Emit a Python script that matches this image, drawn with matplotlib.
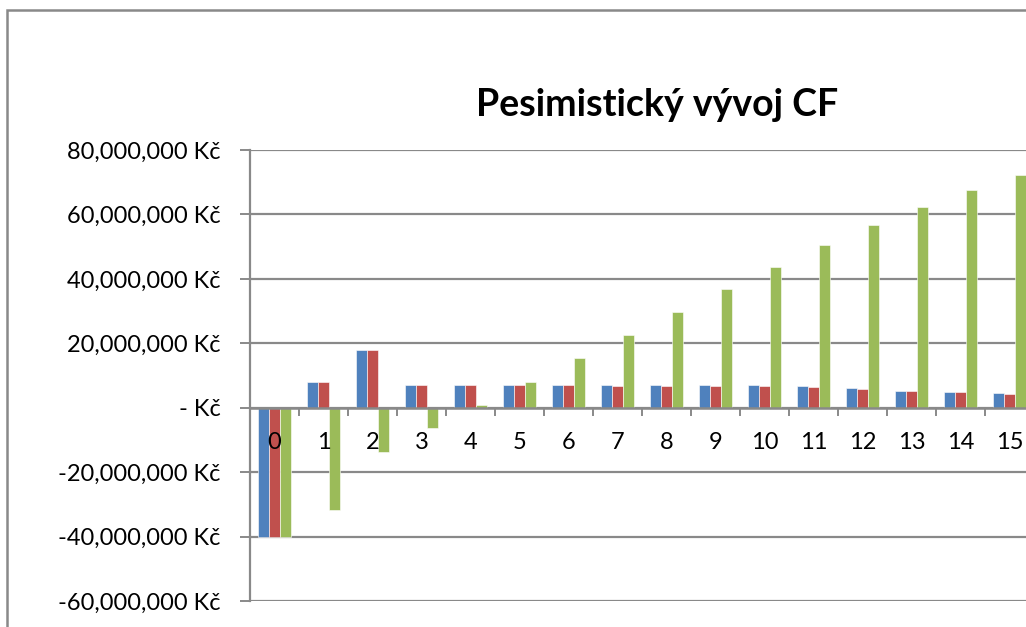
"""Pesimisticky vyvoj CF - clustered bar chart recreated from an Excel screenshot."""
import numpy as np
import matplotlib.pyplot as plt
from matplotlib.ticker import FuncFormatter, MultipleLocator
from matplotlib.patches import Rectangle

plt.rcParams['font.family'] = ['Lato', 'DejaVu Sans']

# data (values in millions of CZK)
years = [str(i) for i in range(16)]
series_a = [-40.0, 8.0, 18.0, 7.0, 7.0, 7.0, 7.0, 6.9, 6.9, 6.9, 6.9, 6.6, 6.1, 5.3, 4.9, 4.6]
series_b = [-40.0, 8.0, 18.0, 7.0, 7.0, 7.0, 7.0, 6.85, 6.85, 6.7, 6.7, 6.5, 5.9, 5.2, 4.8, 4.4]
series_c = [-40.0, -31.8, -13.6, -6.3, 0.9, 8.1, 15.4, 22.6, 29.8, 36.9, 43.8, 50.6, 56.8, 62.4, 67.5, 72.3]
colors = ["#4F81BD", "#C0504D", "#9BBB59"]
title = "Pesimistický vývoj CF"


def kc_format(v, pos):
    """Excel accounting style tick label."""
    if abs(v) < 1:
        return "- Kč"
    return f"{v:,.0f} Kč"


def main():
    fig = plt.figure(figsize=(10.26, 6.27), dpi=100)
    W, H = 1026, 627

    # chart area border (cropped screenshot: only top and left visible)
    fig.add_artist(Rectangle((7 / W, -0.1), 1.2, (627 - 10) / H + 0.1,
                             transform=fig.transFigure, fill=False,
                             edgecolor="#898989", linewidth=1.8))

    left, right = 250, 1034
    top, bottom = 150, 601
    ax = fig.add_axes([left / W, (H - bottom) / H, (right - left) / W, (bottom - top) / H])

    x = np.arange(len(years))
    w = 0.218
    for i, (vals, c) in enumerate(zip([series_a, series_b, series_c], colors)):
        ax.bar(x + (i - 1) * w, np.array(vals) * 1e6, width=w, color=c,
               edgecolor="white", linewidth=0.4, zorder=3)

    ax.set_xlim(-0.5, len(years) - 0.5)
    ax.set_ylim(-60e6, 80e6)
    ax.yaxis.set_major_locator(MultipleLocator(20e6))
    ax.yaxis.set_major_formatter(FuncFormatter(kc_format))
    ax.grid(axis="y", color="#898989", linewidth=1.6, zorder=1)

    for s in ["top", "right", "bottom"]:
        ax.spines[s].set_visible(False)
    ax.spines["left"].set_color("#898989")
    ax.spines["left"].set_linewidth(1.6)
    ax.tick_params(axis="y", length=7, width=1.4, color="#898989",
                   labelsize=17, pad=14, labelcolor="black")

    # category axis crosses at zero
    ax.axhline(0, color="#898989", linewidth=1.8, zorder=4)
    ax.set_xticks([])
    for k in range(1, len(years) + 1):
        ax.plot([k - 0.5, k - 0.5], [0, -2.2e6], color="#898989", lw=1.4,
                zorder=4, clip_on=False)
    for xi, lab in zip(x, years):
        ax.text(xi, -10.8e6, lab, ha="center", va="center", fontsize=17, zorder=5)

    fig.text(657 / W, (H - 105) / H, title, ha="center", va="center",
             fontsize=27, fontweight="bold")

    fig.savefig("out.png", dpi=100)
    plt.close(fig)


if __name__ == "__main__":
    main()
